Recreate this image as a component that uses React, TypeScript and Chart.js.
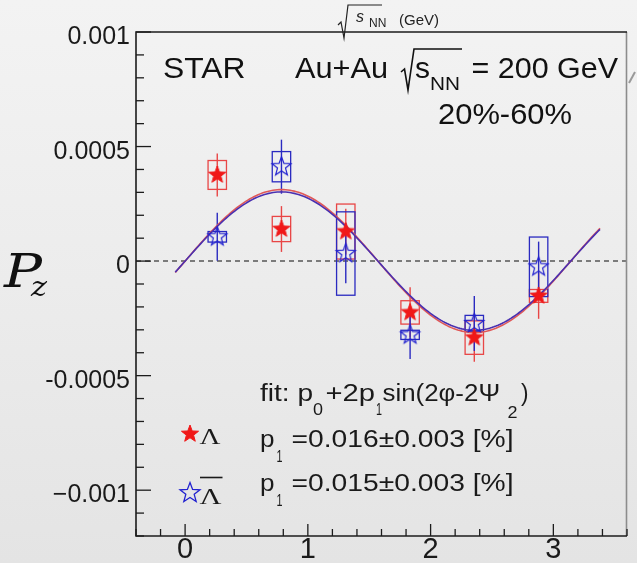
import React, { useEffect, useRef } from 'react';
import { Chart, registerables } from 'chart.js';

Chart.register(...registerables);

// ---------- data ----------
const phiCenters = [0.262, 0.785, 1.309, 1.833, 2.356, 2.88];

const lambdaPz = [0.000376, 0.00014, 0.000129, -0.000224, -0.000334, -0.000152];
const lambdaStat = [0.000094, 0.0001, 0.0001, 0.00011, 0.000105, 0.0001];
const lambdaSys = [0.000063, 0.000055, 0.00012, 0.000051, 0.000073, 0.000028];

const antiLambdaPz = [0.000106, 0.000412, 0.000033, -0.000322, -0.000272, -0.000025];
const antiLambdaStat = [0.000105, 0.000118, 0.00013, 0.000105, 0.00012, 0.00011];
const antiLambdaSys = [0.000023, 0.000066, 0.000182, 0.00002, 0.000035, 0.00013];

const BOX_HALF_WIDTH = 0.075; // phi units

// fit: p0 + 2 p1 sin(2phi - 2Psi2)  (amplitudes as drawn in the reference)
const lambdaP0 = 0;
const lambdaP1 = 0.000156;
const antiLambdaP0 = 0;
const antiLambdaP1 = 0.000151;
const FIT_FROM = -0.08;
const FIT_TO = 3.38;

const xMajorTicks = [0, 1, 2, 3];
const xTickLabels = ['0', '1', '2', '3'];
const yMajorTicks = [0.001, 0.0005, 0, -0.0005, -0.001];
const yTickLabels = ['0.001', '0.0005', '0', '-0.0005', '\u22120.001'];

const X_MIN = -0.4;
const X_MAX = 3.6;
const Y_MIN = -0.0012;
const Y_MAX = 0.001;

// ---------- styles ----------
const RED = '#f01818';
const RED_LINE = '#e84646';
const BLUE = '#2222d0';
const BLUE_LINE = '#2a2ac0';
const SANS = '"Liberation Sans", Arial, Helvetica, sans-serif';
const SERIF = '"Liberation Serif", "Times New Roman", serif';

function fitValue(p0: number, p1: number, phi: number) {
  return p0 + 2 * p1 * Math.sin(2 * phi);
}

function fitCurve(p0: number, p1: number) {
  const pts: { x: number; y: number }[] = [];
  const n = 200;
  for (let i = 0; i <= n; i++) {
    const phi = FIT_FROM + ((FIT_TO - FIT_FROM) * i) / n;
    pts.push({ x: phi, y: fitValue(p0, p1, phi) });
  }
  return pts;
}

function starPath(ctx: CanvasRenderingContext2D, cx: number, cy: number, r: number, inner = 0.42) {
  ctx.beginPath();
  for (let i = 0; i < 10; i++) {
    const ang = -Math.PI / 2 + (i * Math.PI) / 5;
    const rad = i % 2 === 0 ? r : r * inner;
    const x = cx + rad * Math.cos(ang);
    const y = cy + rad * Math.sin(ang);
    if (i === 0) ctx.moveTo(x, y);
    else ctx.lineTo(x, y);
  }
  ctx.closePath();
}

function makeStar(r: number, fill: string | null, stroke: string, lw: number) {
  const size = Math.ceil(2 * r + 2 * lw + 4);
  const c = document.createElement('canvas');
  c.width = size;
  c.height = size;
  const ctx = c.getContext('2d')!;
  starPath(ctx, size / 2, size / 2, r);
  if (fill) {
    ctx.fillStyle = fill;
    ctx.fill();
  }
  ctx.strokeStyle = stroke;
  ctx.lineWidth = lw;
  ctx.lineJoin = 'miter';
  ctx.stroke();
  return c;
}

function drawText(
  ctx: CanvasRenderingContext2D,
  s: string,
  x: number,
  y: number,
  font: string,
  color: string,
  width?: number,
  align: CanvasTextAlign = 'left'
) {
  ctx.save();
  ctx.font = font;
  ctx.fillStyle = color;
  ctx.textBaseline = 'alphabetic';
  ctx.textAlign = align;
  if (width) {
    const w = ctx.measureText(s).width;
    ctx.translate(x, y);
    ctx.scale(width / w, 1);
    ctx.fillText(s, 0, 0);
  } else {
    ctx.fillText(s, x, y);
  }
  ctx.restore();
}

const rootPlugin = {
  id: 'rootStyle',
  beforeDatasetsDraw(chart: any) {
    const ctx: CanvasRenderingContext2D = chart.ctx;
    const xs = chart.scales.x;
    const ys = chart.scales.y;
    const a = chart.chartArea;
    ctx.save();
    // zero line
    ctx.strokeStyle = '#555';
    ctx.lineWidth = 1.5;
    ctx.setLineDash([5, 4]);
    const y0 = ys.getPixelForValue(0);
    ctx.beginPath();
    ctx.moveTo(a.left, y0);
    ctx.lineTo(a.right, y0);
    ctx.stroke();
    ctx.setLineDash([]);

    const series = [
      { v: lambdaPz, stat: lambdaStat, sys: lambdaSys, box: RED_LINE, line: RED_LINE },
      { v: antiLambdaPz, stat: antiLambdaStat, sys: antiLambdaSys, box: BLUE_LINE, line: BLUE_LINE },
    ];
    for (const s of series) {
      for (let i = 0; i < phiCenters.length; i++) {
        const xc = xs.getPixelForValue(phiCenters[i]);
        const xl = xs.getPixelForValue(phiCenters[i] - BOX_HALF_WIDTH);
        const xr = xs.getPixelForValue(phiCenters[i] + BOX_HALF_WIDTH);
        const yt = ys.getPixelForValue(s.v[i] + s.sys[i]);
        const yb = ys.getPixelForValue(s.v[i] - s.sys[i]);
        ctx.strokeStyle = s.box;
        ctx.lineWidth = 1.3;
        ctx.strokeRect(xl, yt, xr - xl, yb - yt);
        const et = ys.getPixelForValue(s.v[i] + s.stat[i]);
        const eb = ys.getPixelForValue(s.v[i] - s.stat[i]);
        ctx.strokeStyle = s.line;
        ctx.lineWidth = 1.4;
        ctx.beginPath();
        ctx.moveTo(xc, et);
        ctx.lineTo(xc, eb);
        ctx.stroke();
      }
    }
    ctx.restore();
  },
  afterDraw(chart: any) {
    const ctx: CanvasRenderingContext2D = chart.ctx;
    const xs = chart.scales.x;
    const ys = chart.scales.y;
    const a = chart.chartArea;
    ctx.save();

    // frame
    ctx.strokeStyle = '#8c8c8c';
    ctx.lineWidth = 1.6;
    ctx.beginPath();
    ctx.moveTo(a.right - 0.5, a.top);
    ctx.lineTo(a.right - 0.5, a.bottom);
    ctx.stroke();
    ctx.strokeStyle = '#1c1c1c';
    ctx.lineWidth = 1.6;
    ctx.beginPath();
    ctx.moveTo(a.right, a.top);
    ctx.lineTo(a.left, a.top);
    ctx.lineTo(a.left, a.bottom);
    ctx.lineTo(a.right, a.bottom);
    ctx.stroke();

    // y ticks (inward)
    ctx.lineWidth = 1.3;
    for (let k = -12; k <= 10; k++) {
      const v = k * 0.0001;
      const py = ys.getPixelForValue(v);
      const len = k % 5 === 0 ? 15 : 8;
      ctx.beginPath();
      ctx.moveTo(a.left, py);
      ctx.lineTo(a.left + len, py);
      ctx.stroke();
    }
    // x ticks (inward)
    for (let k = -2; k <= 18; k++) {
      const v = k * 0.2;
      const px = xs.getPixelForValue(v);
      const len = k % 5 === 0 ? 12 : 7;
      ctx.beginPath();
      ctx.moveTo(px, a.bottom);
      ctx.lineTo(px, a.bottom - len);
      ctx.stroke();
    }

    // tick labels
    yMajorTicks.forEach((v, i) => {
      const py = ys.getPixelForValue(v);
      drawText(ctx, yTickLabels[i], 130, py + 12, `25px ${SANS}`, '#1a1a1a', undefined, 'right');
    });
    xMajorTicks.forEach((v, i) => {
      const px = xs.getPixelForValue(v);
      drawText(ctx, xTickLabels[i], px, 558, `29px ${SANS}`, '#1a1a1a', undefined, 'center');
    });

    // y-axis title P_z
    drawText(ctx, 'P', 4, 287, `italic 46px "DejaVu Serif", serif`, '#111', 38);
    drawText(ctx, 'z', 31, 296, `italic 28px "DejaVu Serif", serif`, '#111', 16);

    // top small label  sqrt(s_NN) (GeV)
    ctx.strokeStyle = '#222';
    ctx.lineWidth = 1.2;
    ctx.beginPath();
    ctx.moveTo(338, 25);
    ctx.lineTo(341, 22);
    ctx.lineTo(344, 38);
    ctx.lineTo(348, 5);
    ctx.lineTo(382, 5);
    ctx.stroke();
    drawText(ctx, 's', 356, 21.5, `italic 16px ${SANS}`, '#222');
    drawText(ctx, 'NN', 369, 26.5, `12px ${SANS}`, '#222');
    drawText(ctx, '(GeV)', 399, 25, `15px ${SANS}`, '#222');

    // STAR / Au+Au text
    const big = `30px ${SANS}`;
    drawText(ctx, 'STAR', 163, 77.5, big, '#111', 82.5);
    drawText(ctx, 'Au+Au', 295, 78, big, '#111', 93);
    ctx.strokeStyle = '#111';
    ctx.lineWidth = 1.6;
    ctx.beginPath();
    ctx.moveTo(401, 72);
    ctx.lineTo(404.5, 69);
    ctx.lineTo(408, 90);
    ctx.lineTo(414, 49);
    ctx.lineTo(462, 49);
    ctx.stroke();
    drawText(ctx, 's', 415, 78, big, '#111', 15);
    drawText(ctx, 'NN', 430, 90, `18px ${SANS}`, '#111', 30);
    drawText(ctx, '= 200 GeV', 471.5, 78, big, '#111', 146.5);
    drawText(ctx, '20%-60%', 438, 124, big, '#111', 134);
    // small grey slash at right edge
    ctx.strokeStyle = '#9a9a9a';
    ctx.lineWidth = 2;
    ctx.beginPath();
    ctx.moveTo(629, 83);
    ctx.lineTo(635, 72);
    ctx.stroke();

    // fit formula
    const mid = `23px ${SANS}`;
    const sub = `16px ${SANS}`;
    drawText(ctx, 'fit: p', 260, 401, mid, '#1a1a1a', 53);
    drawText(ctx, '0', 313, 415, sub, '#1a1a1a', 10);
    drawText(ctx, '+2p', 325.5, 401, mid, '#1a1a1a', 49.5);
    drawText(ctx, '1', 376, 415, sub, '#1a1a1a', 6);
    drawText(ctx, 'sin(2\u03C6-2\u03A8', 382.5, 401, mid, '#1a1a1a', 117.5);
    drawText(ctx, '2', 507.5, 418, sub, '#1a1a1a', 10);
    drawText(ctx, ')', 521, 401, mid, '#1a1a1a', 7.5);

    // p1 lines
    const lines = [
      { y: 446.5, text: '=0.016\u00B10.003 [%]' },
      { y: 490.5, text: '=0.015\u00B10.003 [%]' },
    ];
    for (const l of lines) {
      drawText(ctx, 'p', 260, l.y, mid, '#1a1a1a', 14.5);
      drawText(ctx, '1', 276.5, l.y + 15, sub, '#1a1a1a', 6);
      drawText(ctx, l.text, 291.5, l.y, mid, '#1a1a1a', 222);
    }

    // legend markers
    starPath(ctx, 190, 434, 9);
    ctx.fillStyle = RED;
    ctx.fill();
    ctx.strokeStyle = RED;
    ctx.lineWidth = 1;
    ctx.stroke();
    drawText(ctx, '\u039B', 199.5, 443.5, `23px ${SERIF}`, '#1a1a1a', 21);

    starPath(ctx, 190, 493, 10.5);
    ctx.strokeStyle = BLUE;
    ctx.lineWidth = 1.3;
    ctx.stroke();
    drawText(ctx, '\u039B', 199.5, 503.5, `24px ${SERIF}`, '#1a1a1a', 22);
    ctx.strokeStyle = '#1a1a1a';
    ctx.lineWidth = 1.6;
    ctx.beginPath();
    ctx.moveTo(200, 477.5);
    ctx.lineTo(222.5, 477.5);
    ctx.stroke();

    ctx.restore();
  },
};

export default function App() {
  const ref = useRef<HTMLCanvasElement | null>(null);

  useEffect(() => {
    if (!ref.current) return;
    const redStar = makeStar(9, RED, RED, 1);
    const blueStar = makeStar(10, null, BLUE, 1.2);

    const chart = new Chart(ref.current, {
      type: 'scatter',
      data: {
        datasets: [
          {
            label: 'fit Lambda',
            data: fitCurve(lambdaP0, lambdaP1),
            showLine: true,
            borderColor: '#e05858',
            borderWidth: 1.6,
            pointRadius: 0,
            tension: 0,
            order: 4,
          },
          {
            label: 'fit anti-Lambda',
            data: fitCurve(antiLambdaP0, antiLambdaP1),
            showLine: true,
            borderColor: '#4a30b0',
            borderWidth: 1.6,
            pointRadius: 0,
            tension: 0,
            order: 3,
          },
          {
            label: 'Lambda',
            data: phiCenters.map((x, i) => ({ x, y: lambdaPz[i] })),
            pointStyle: redStar as any,
            pointRadius: 9,
            showLine: false,
            order: 1,
          },
          {
            label: 'anti-Lambda',
            data: phiCenters.map((x, i) => ({ x, y: antiLambdaPz[i] })),
            pointStyle: blueStar as any,
            pointRadius: 9,
            showLine: false,
            order: 2,
          },
        ],
      },
      options: {
        animation: false,
        responsive: false,
        devicePixelRatio: 1,
        layout: { padding: { top: 32, right: 2, left: 0, bottom: 0 } },
        plugins: {
          legend: { display: false },
          tooltip: { enabled: false },
        },
        events: [],
        scales: {
          x: {
            type: 'linear',
            min: X_MIN,
            max: X_MAX,
            grid: { display: false },
            border: { display: false },
            ticks: { display: false },
            afterFit: (scale: any) => {
              scale.height = 27;
            },
          },
          y: {
            type: 'linear',
            min: Y_MIN,
            max: Y_MAX,
            grid: { display: false },
            border: { display: false },
            ticks: { display: false },
            afterFit: (scale: any) => {
              scale.width = 136;
            },
          },
        },
      },
      plugins: [rootPlugin],
    });
    return () => chart.destroy();
  }, []);

  return (
    <div
      style={{
        position: 'absolute',
        left: 0,
        top: 0,
        width: 637,
        height: 563,
        background: 'linear-gradient(to bottom, #f3f3f3 0%, #ececec 50%, #e4e4e4 100%)',
        overflow: 'hidden',
      }}
    >
      <canvas ref={ref} width={637} height={563} style={{ display: 'block', width: 637, height: 563 }} />
    </div>
  );
}
